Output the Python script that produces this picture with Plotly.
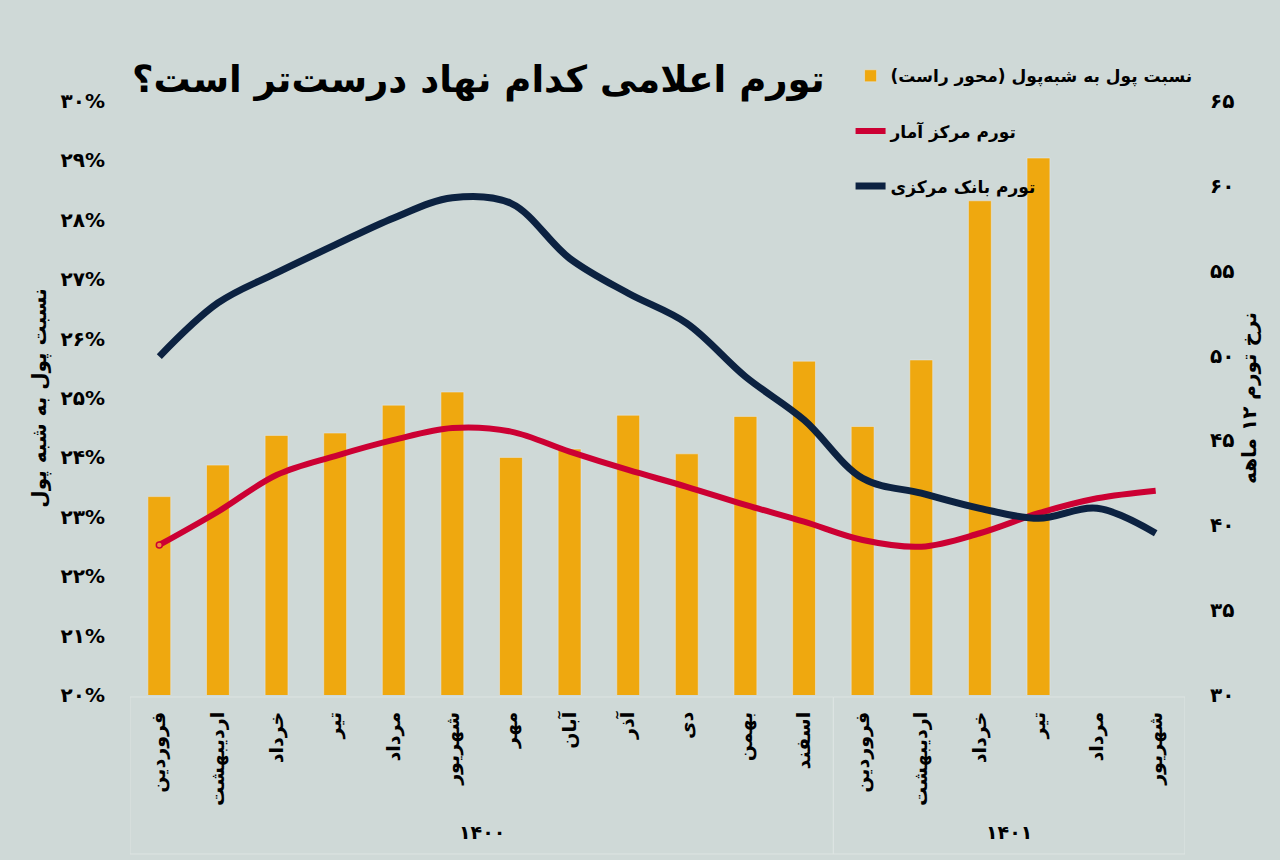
import plotly.graph_objects as go

month_labels = ["فروردین", "اردیبهشت", "خرداد", "تیر", "مرداد", "شهریور", "مهر", "آبان", "آذر",
                "دی", "بهمن", "اسفند", "فروردین", "اردیبهشت", "خرداد", "تیر", "مرداد", "شهریور"]
years = ["۱۴۰۰", "۱۴۰۱"]

money_ratio = [23.34, 23.87, 24.37, 24.41, 24.88, 25.10, 24.00, 24.14, 24.71,
               24.06, 24.69, 25.62, 24.52, 25.64, 28.32, 29.04, None, None]
inflation_sci = [38.84, 40.80, 42.96, 44.08, 45.03, 45.73, 45.52, 44.34, 43.26,
                 42.27, 41.20, 40.21, 39.13, 38.74, 39.53, 40.71, 41.59, 42.04]
inflation_cbi = [49.94, 53.10, 54.87, 56.52, 58.11, 59.30, 58.97, 55.73, 53.67,
                 51.90, 48.76, 46.21, 42.77, 41.89, 41.00, 40.41, 41.00, 39.53]

left_ticks = [20, 21, 22, 23, 24, 25, 26, 27, 28, 29, 30]
left_ticktext = ["۲۰%", "۲۱%", "۲۲%", "۲۳%", "۲۴%", "۲۵%", "۲۶%", "۲۷%", "۲۸%", "۲۹%", "۳۰%"]
right_ticks = [30, 35, 40, 45, 50, 55, 60, 65]
right_ticktext = ["۳۰", "۳۵", "۴۰", "۴۵", "۵۰", "۵۵", "۶۰", "۶۵"]

title_text = "تورم اعلامی کدام نهاد درست\u200cتر است؟"
name_bar = "نسبت پول به شبه\u200cپول (محور راست)\u200f"
name_sci = "تورم مرکز آمار"
name_cbi = "تورم بانک مرکزی"
left_title = "نسبت پول به شبه پول"
right_title = "نرخ تورم ۱۲ ماهه"

BG = "#cfd9d7"
ORANGE = "#efa80f"
RED = "#cc0033"
NAVY = "#0c2241"
FONT = "DejaVu Sans"

# plot-area geometry in pixels (used only to place annotations)
PL, PR, PT, PB = 130, 1185, 101, 695
PW, PH = PR - PL, PB - PT

x = list(range(len(month_labels)))

fig = go.Figure()
fig.add_trace(go.Bar(x=x, y=money_ratio, name=name_bar, marker_color=ORANGE,
                     width=0.39, yaxis="y", legendgroup="a"))
fig.add_trace(go.Scatter(x=x, y=inflation_sci, name=name_sci, mode="lines",
                         line=dict(color=RED, width=6, shape="spline", smoothing=1.0),
                         yaxis="y2", legendgroup="b"))
fig.add_trace(go.Scatter(x=x, y=inflation_cbi, name=name_cbi, mode="lines",
                         line=dict(color=NAVY, width=7, shape="spline", smoothing=1.0),
                         yaxis="y2", legendgroup="c"))
fig.add_trace(go.Scatter(x=x[:1], y=inflation_sci[:1], mode="markers", showlegend=False,
                         marker=dict(color="#f08a3c", size=6, line=dict(color=RED, width=1.5)),
                         yaxis="y2"))

fig.update_layout(
    width=1280, height=860,
    paper_bgcolor=BG, plot_bgcolor=BG,
    margin=dict(l=PL, r=1280 - PR, t=PT, b=860 - PB),
    font=dict(family=FONT, size=20, color="#000000", weight="bold"),
    showlegend=True,
    legend=dict(x=0.683, y=1.072, xanchor="left", yanchor="top",
                bgcolor="rgba(0,0,0,0)", font=dict(size=17, family=FONT, weight="bold"),
                tracegroupgap=30, traceorder="grouped"),
    xaxis=dict(tickmode="array", tickvals=x, ticktext=month_labels, tickangle=-90,
               range=[-0.5, 17.5], showgrid=False, zeroline=False, showline=False,
               ticks="", ticklabelstandoff=12,
               tickfont=dict(size=19, family=FONT, weight="bold")),
    yaxis=dict(range=[20, 30], tickmode="array", tickvals=left_ticks, ticktext=left_ticktext,
               showgrid=False, zeroline=False, showline=False, ticks="",
               ticklabelstandoff=24,
               tickfont=dict(size=20, family=FONT, weight="bold"),
               title=dict(text=left_title, standoff=8,
                          font=dict(size=20, family=FONT, weight="bold"))),
    yaxis2=dict(range=[30, 65], overlaying="y", side="right", tickmode="array",
                tickvals=right_ticks, ticktext=right_ticktext,
                showgrid=False, zeroline=False, showline=False, ticks="",
                ticklabelstandoff=24,
                tickfont=dict(size=20, family=FONT, weight="bold"),
                title=dict(text=right_title, standoff=8,
                           font=dict(size=20, family=FONT, weight="bold"))),
    bargap=0.6,
)

# faint group boxes under the axis
for x0, x1 in [(-0.5, 11.5), (11.5, 17.5)]:
    fig.add_shape(type="rect", xref="x", yref="paper", x0=x0, x1=x1,
                  y0=-(854 - PB) / PH, y1=-(697 - PB) / PH,
                  line=dict(color="#dde4e2", width=1), fillcolor="rgba(0,0,0,0)", layer="below")

year_y = -(832 - PB) / PH
fig.add_annotation(x=5.5, y=year_y, xref="x", yref="paper", text=years[0], showarrow=False,
                   xanchor="center", yanchor="middle",
                   font=dict(size=19, family=FONT, weight="bold"))
fig.add_annotation(x=14.5, y=year_y, xref="x", yref="paper", text=years[1], showarrow=False,
                   xanchor="center", yanchor="middle",
                   font=dict(size=19, family=FONT, weight="bold"))

fig.add_annotation(x=(478 - PL) / PW, y=1 + (PT - 80) / PH, xref="paper", yref="paper",
                   text=title_text, showarrow=False, xanchor="center", yanchor="middle",
                   font=dict(size=37, family=FONT, weight="bold", color="#000000"))

fig.write_html("out.html", config={"displayModeBar": False},
               post_script="document.body.style.margin='0';document.body.style.overflow='hidden';")
